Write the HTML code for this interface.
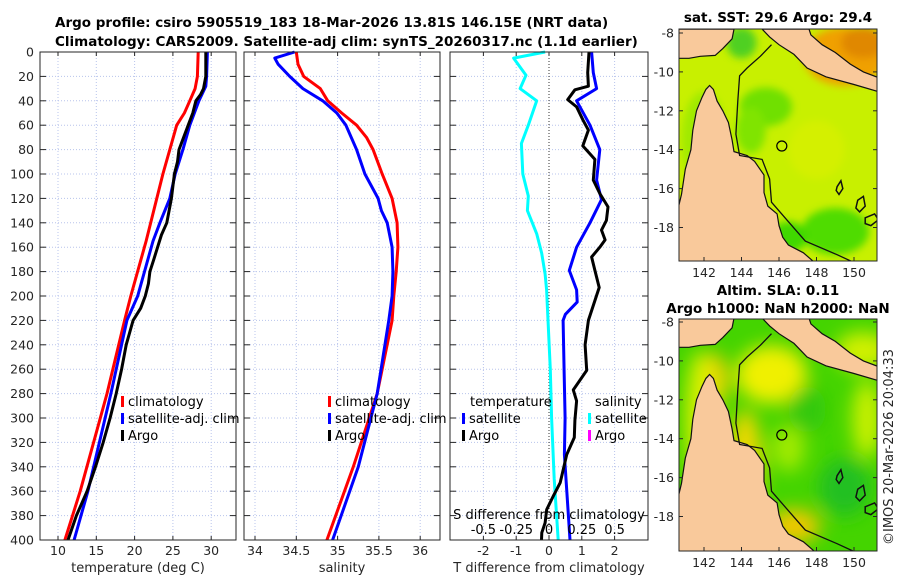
<!DOCTYPE html>
<html><head><meta charset="utf-8"><style>
html,body{margin:0;padding:0;background:#fff;width:900px;height:580px;overflow:hidden}
svg{display:block;font-family:"DejaVu Sans","Liberation Sans",sans-serif}
.tk{font-size:12.5px;fill:#262626}
.tt{font-size:13.5px;font-weight:bold;fill:#000}
.lg{font-size:13px;fill:#000}
</style></head><body>
<svg id="fig" width="900" height="580" viewBox="0 0 900 580">
<text class="tt" x="55" y="27">Argo profile: csiro 5905519_183 18-Mar-2026 13.81S 146.15E (NRT data)</text>
<text class="tt" x="55" y="46">Climatology: CARS2009. Satellite-adj clim: synTS_20260317.nc (1.1d earlier)</text>
<text x="893" y="545" transform="rotate(-90 893 545)" style="font-size:13px;fill:#262626">©IMOS 20-Mar-2026 20:04:33</text>
<g id="root"></g>
</svg>
<script>
// ---- depth axis ----
const depthTicks = [0,20,40,60,80,100,120,140,160,180,200,220,240,260,280,300,320,340,360,380,400];
// ---- Panel 1: temperature ----
const tTicks = [10,15,20,25,30];
const tClimDepth = [0,20,30,40,50,60,80,100,120,140,155,200,220,280,360,400];
const tClim = [28.3,28.2,27.9,27.2,26.5,25.5,24.6,23.7,22.9,22.1,21.5,19.5,18.7,16.4,12.9,10.9];
const tSatDepth = [0,20,28,40,60,80,100,120,140,155,200,220,280,360,400];
const tSat = [29.5,29.4,29.3,28.4,27.2,26.3,25.3,24.6,23.3,22.4,20.4,19.0,16.9,13.9,12.1];
const tArgoDepth = [0,20,30,35,40,50,60,70,80,90,100,110,120,130,140,150,160,170,180,190,200,210,220,240,260,280,300,320,340,360,380,400];
const tArgo = [29.3,29.3,29.0,28.6,28.0,27.6,27.0,26.4,25.8,25.6,25.2,25.0,24.8,24.5,24.2,23.5,23.0,22.5,22.0,21.8,21.4,20.8,19.8,18.9,18.3,17.6,16.8,15.9,14.9,13.8,12.4,11.3];
// ---- Panel 2: salinity ----
const sTicks = [34,34.5,35,35.5,36];
const sTickLabels = ["34","34.5","35","35.5","36"];
const sClimDepth = [0,10,20,30,40,50,60,70,80,100,120,140,160,180,200,220,280,340,400];
const sClim = [34.50,34.52,34.59,34.79,34.88,35.05,35.23,35.35,35.43,35.54,35.66,35.72,35.73,35.71,35.68,35.66,35.48,35.19,34.87];
const sSatDepth = [0,5,10,20,30,40,50,60,80,100,120,130,140,160,180,200,220,280,340,400];
const sSat = [34.48,34.24,34.28,34.42,34.58,34.82,34.99,35.10,35.23,35.33,35.49,35.53,35.60,35.66,35.67,35.66,35.62,35.48,35.25,34.94];
// ---- Panel 3: differences ----
const dTTicks = [-2,-1,0,1,2];
const dSTicks = [-0.5,-0.25,0,0.25,0.5];
const dSTickLabels = ["-0.5","-0.25","0","0.25","0.5"];
const dSSatDepth = [0,5,19,30,40,60,75,100,118,130,149,165,182,195,260,300,350,400];
const dSSat = [-0.03,-0.27,-0.175,-0.22,-0.094,-0.158,-0.21,-0.2,-0.158,-0.165,-0.094,-0.056,-0.03,-0.018,0.01,0.02,0.04,0.07];
const dTSatDepth = [0,17,30,40,60,80,105,121,140,160,179,195,205,215,220,261,300,330,400];
const dTSat = [1.3,1.35,1.45,0.84,1.25,1.55,1.45,1.6,1.25,0.84,0.62,0.84,0.86,0.5,0.43,0.46,0.49,0.47,0.64];
const dTArgoDepth = [0,17,28,31,39,45,56,64,77,88,105,116,127,138,146,154,160,168,179,193,220,240,261,277,286,302,316,330,353,364,375,386,394,400];
const dTArgo = [1.22,1.18,1.2,0.79,0.57,0.84,1.04,1.2,1.03,1.4,1.35,1.55,1.8,1.75,1.6,1.71,1.55,1.3,1.4,1.53,1.2,1.1,1.15,0.74,0.84,0.79,0.77,0.54,0.34,0.13,-0.07,-0.12,-0.22,-0.23];
// ---- Maps ----
const lonTicks = [142,144,146,148,150];
const latTicks = [-8,-10,-12,-14,-16,-18];
const argoLon = 146.15, argoLat = -13.81;

const NS="http://www.w3.org/2000/svg";
const root=document.getElementById('root');
function mk(tag,attrs,parent){const e=document.createElementNS(NS,tag);for(const k in attrs)e.setAttribute(k,attrs[k]);(parent||root).appendChild(e);return e;}
const Y0=52,Y1=540;
const yD=d=>Y0+d/400*(Y1-Y0);

function panel(x0,x1,xs,ticks,labels,name){
  const g=mk('g',{});
  
  
  ticks.forEach(t=>{const x=xs(t);const l=mk('line',{x1:x,x2:x,y1:Y0,y2:Y1,stroke:'#b8c4ec','stroke-width':1,'stroke-dasharray':'1,2'},g);});
  depthTicks.forEach(d=>{const y=yD(d);if(d>0&&d<400){const l=mk('line',{x1:x0,x2:x1,y1:y,y2:y,stroke:'#b8c4ec','stroke-width':1,'stroke-dasharray':'1,2'},g);}
    mk('line',{x1:x0,x2:x0+6,y1:y,y2:y,stroke:'#262626'},g);mk('line',{x1:x1-6,x2:x1,y1:y,y2:y,stroke:'#262626'},g);});
  ticks.forEach((t,i)=>{const x=xs(t);mk('line',{x1:x,x2:x,y1:Y1,y2:Y1-4,stroke:'#262626'},g);mk('line',{x1:x,x2:x,y1:Y0,y2:Y0+4,stroke:'#262626'},g);
    const tx=mk('text',{x:x,y:555,'text-anchor':'middle',class:'tk'},g);tx.textContent=labels?labels[i]:String(t);
    });
  return g;
}
function line(g,xs,depths,vals,color,name){
  const pts=depths.map((d,i)=>xs(vals[i]).toFixed(1)+','+yD(d).toFixed(1)).join(' ');
  const p=mk('polyline',{points:pts,fill:'none',stroke:color,'stroke-width':3,'stroke-linejoin':'round'},g);
  
  
}
function frame(g,x0,x1){mk('rect',{x:x0,y:Y0,width:x1-x0,height:Y1-Y0,fill:'none',stroke:'#262626','stroke-width':1},g);}
function legendItem(g,x,y,color,label,name){
  mk('rect',{x:x,y:y-10,width:3,height:11,fill:color},g);
  const t=mk('text',{x:x+7,y:y,class:'lg'},g);t.textContent=label;
  
}

// Panel 1
const xT=t=>58+(t-10)*7.66;
const g1=panel(40,236,xT,tTicks,null,'temperature-panel');
depthTicks.forEach(d=>{const t=mk('text',{x:34,y:yD(d)+4.5,'text-anchor':'end',class:'tk'});t.textContent=d;});
line(g1,xT,tClimDepth,tClim,'#ff0000','temp-climatology-line');
line(g1,xT,tSatDepth,tSat,'#0000ff','temp-satellite-line');
line(g1,xT,tArgoDepth,tArgo,'#000000','temp-argo-line');
frame(g1,40,236);
legendItem(g1,121,406,'#ff0000','climatology','legend-climatology');
legendItem(g1,121,423,'#0000ff','satellite-adj. clim','legend-satellite-adj');
legendItem(g1,121,440,'#000000','Argo','legend-argo');
let at=mk('text',{x:138,y:572,'text-anchor':'middle',class:'tk',style:'font-size:13px'});at.textContent='temperature (deg C)';

// Panel 2
const xS=s=>255+(s-34)*82.6;
const g2=panel(244,440,xS,sTicks,sTickLabels,'salinity-panel');
line(g2,xS,sClimDepth,sClim,'#ff0000','sal-climatology-line');
line(g2,xS,sSatDepth,sSat,'#0000ff','sal-satellite-line');
frame(g2,244,440);
legendItem(g2,328,406,'#ff0000','climatology','legend-climatology-2');
legendItem(g2,328,423,'#0000ff','satellite-adj. clim','legend-satellite-adj-2');
legendItem(g2,328,440,'#000000','Argo','legend-argo-2');
at=mk('text',{x:342,y:572,'text-anchor':'middle',class:'tk',style:'font-size:13px'});at.textContent='salinity';

// Panel 3
const xDT=t=>549+t*32.8;
const xDS=s=>549+s*131.2;
const g3=panel(450,648,xDT,dTTicks,null,'difference-panel');
mk('line',{x1:549,x2:549,y1:Y0,y2:Y1,stroke:'#333','stroke-width':1,'stroke-dasharray':'1,2'},g3);
line(g3,xDS,dSSatDepth,dSSat,'#00ffff','sal-diff-satellite-line');
line(g3,xDT,dTSatDepth,dTSat,'#0000ff','temp-diff-satellite-line');
line(g3,xDT,dTArgoDepth,dTArgo,'#000000','temp-diff-argo-line');
frame(g3,450,648);
let tx=mk('text',{x:470,y:406,class:'lg'});tx.textContent='temperature';
tx=mk('text',{x:595,y:406,class:'lg'});tx.textContent='salinity';
legendItem(g3,462,423,'#0000ff','satellite','legend-temp-satellite');
legendItem(g3,462,440,'#000000','Argo','legend-temp-argo');
legendItem(g3,588,423,'#00ffff','satellite','legend-sal-satellite');
legendItem(g3,588,440,'#ff00ff','Argo','legend-sal-argo');
tx=mk('text',{x:549,y:519,'text-anchor':'middle',class:'lg'});tx.textContent='S difference from climatology';
dSTicks.forEach((s,i)=>{const t=mk('text',{x:xDS(s),y:534,'text-anchor':'middle',class:'lg'});t.textContent=dSTickLabels[i];});
at=mk('text',{x:549,y:572,'text-anchor':'middle',class:'tk',style:'font-size:13px'});at.textContent='T difference from climatology';

// ---- Maps ----
const aus=[[140.5,-17.5],[140.8,-16.3],[141.0,-15.0],[141.3,-14.0],[141.4,-13.0],[141.6,-12.0],[141.9,-11.3],[142.1,-10.9],[142.3,-10.7],[142.5,-10.9],[142.7,-11.5],[143.0,-12.0],[143.3,-12.6],[143.5,-13.5],[143.6,-14.1],[144.3,-14.3],[144.7,-14.6],[145.2,-15.3],[145.2,-16.2],[145.4,-16.9],[145.9,-17.3],[146.0,-17.9],[146.2,-18.5],[146.5,-18.9],[147.3,-19.3],[147.9,-19.8],[148,-20.2],[140.5,-20.2]];
const pngW=[[140.5,-7.8],[143.6,-7.8],[143.5,-8.3],[143.0,-8.8],[142.6,-9.15],[141.8,-9.2],[141.2,-9.3],[140.5,-9.3]];
const pngE=[[145.1,-7.8],[147.6,-7.8],[147.7,-8.1],[148.3,-8.6],[149.0,-9.0],[149.8,-9.6],[150.5,-10.0],[151.6,-10.4],[151.6,-11.1],[150.0,-10.65],[148.5,-10.25],[147.5,-9.8],[146.8,-9.1],[146.0,-8.6],[145.5,-8.2]];
const shelf=[[145.6,-8.6],[145.0,-9.2],[144.3,-9.8],[143.9,-10.2],[143.8,-11.5],[143.7,-13.2],[143.9,-14.3],[145.1,-14.5],[145.5,-15.5],[145.6,-16.7],[146.5,-17.7],[147.4,-18.7],[149.1,-19.4],[150.0,-19.8]];
const reefs=[[[149.1,-15.9],[149.3,-15.6],[149.4,-16.0],[149.2,-16.3],[149.05,-16.1]],[[150.2,-16.6],[150.5,-16.4],[150.6,-16.9],[150.3,-17.2],[150.1,-17.0]],[[150.6,-17.5],[151.1,-17.3],[151.3,-17.6],[150.9,-17.9],[150.6,-17.8]]];

function drawMap(idx,top,bottom,y8,name,title,bg,blobs){
  const X0=679,X1=877;
  const px=l=>704+(l-142)*18.75, py=a=>y8+(-8-a)*19.45;
  const g=mk('g',{});
  
  
  const defs=mk('defs',{},g);
  const cp=mk('clipPath',{id:'clip'+idx},defs);mk('rect',{x:X0,y:top,width:X1-X0,height:bottom-top},cp);
  const f=mk('filter',{id:'blur'+idx,x:'-50%',y:'-50%',width:'200%',height:'200%'},defs);mk('feGaussianBlur',{stdDeviation:idx==1?4:9},f);
  const inner=mk('g',{'clip-path':'url(#clip'+idx+')'},g);
  mk('rect',{x:X0,y:top,width:X1-X0,height:bottom-top,fill:bg},inner);
  const bg2=mk('g',{filter:'url(#blur'+idx+')'},inner);
  blobs.forEach(b=>mk('ellipse',{cx:px(b[0]),cy:py(b[1]),rx:b[2]*18.75,ry:b[3]*19.45,fill:b[4]},bg2));
  const P=arr=>arr.map(p=>px(p[0]).toFixed(1)+','+py(p[1]).toFixed(1)).join(' ');
  [aus,pngW,pngE].forEach(a=>mk('polygon',{points:P(a),fill:'#f9c99b',stroke:'#111','stroke-width':1.2},inner));
  mk('polyline',{points:P(shelf),fill:'none',stroke:'#111','stroke-width':1.3},inner);
  reefs.forEach(r=>mk('polygon',{points:P(r),fill:'none',stroke:'#111','stroke-width':1.5},inner));
  const c=mk('circle',{cx:px(argoLon),cy:py(argoLat),r:5,fill:'none',stroke:'#000','stroke-width':1.2},g);
  
  mk('rect',{x:X0,y:top,width:X1-X0,height:bottom-top,fill:'none',stroke:'#262626'},g);
  latTicks.forEach(a=>{const y=py(a);mk('line',{x1:X0,x2:X0+4,y1:y,y2:y,stroke:'#262626'},g);mk('line',{x1:X1-4,x2:X1,y1:y,y2:y,stroke:'#262626'},g);
    const t=mk('text',{x:674,y:y+4.5,'text-anchor':'end',class:'tk'},g);t.textContent=a;});
  lonTicks.forEach(l=>{const x=px(l);mk('line',{x1:x,x2:x,y1:bottom,y2:bottom-4,stroke:'#262626'},g);
    const t=mk('text',{x:x,y:bottom+16,'text-anchor':'middle',class:'tk'},g);t.textContent=l;});
  title.forEach((s,i)=>{const t=mk('text',{x:778,y:s[1],'text-anchor':'middle',class:'tt'},g);t.textContent=s[0];});
}
drawMap(1,29,261,33,'sst-map',[['sat. SST: 29.6 Argo: 29.4',22]],'#c8f000',[
 [145.3,-11.8,1.4,1.0,'#70e000'],[144.5,-13,0.8,1.2,'#80e400'],[149,-18.2,1.8,1.2,'#50dc00'],[146.5,-18.5,1.0,0.8,'#40d800'],[149.5,-9.2,2.2,1.5,'#f0a000'],[150.5,-8.5,1.2,0.8,'#e08800'],[148,-14,1.5,1.5,'#d4f000'],[142,-13.5,1.2,2.5,'#a0ea00'],[144,-8.5,0.8,0.8,'#50d020']]);
drawMap(2,319,551,322,'sla-map',[['Altim. SLA: 0.11',295],['Argo h1000: NaN h2000: NaN',313]],'#44d400',[
 [145.6,-10.7,1.9,1.5,'#f0f000'],[150.7,-13,0.8,2.0,'#c8f000'],[146.5,-14.5,0.9,1.2,'#a0ea00'],[144.2,-15.5,0.9,3.0,'#f0d800'],[146.8,-18.5,1.4,0.9,'#f0c800'],[142.5,-11,0.8,1.4,'#f0d000'],[141.8,-13,0.8,3.5,'#d8f000'],[149.5,-16.5,1.4,1.5,'#20c020'],[150.5,-9.5,1.5,1.0,'#d0f000'],[147.5,-12.5,1.0,1.2,'#30c810']]);
</script>
</body></html>
